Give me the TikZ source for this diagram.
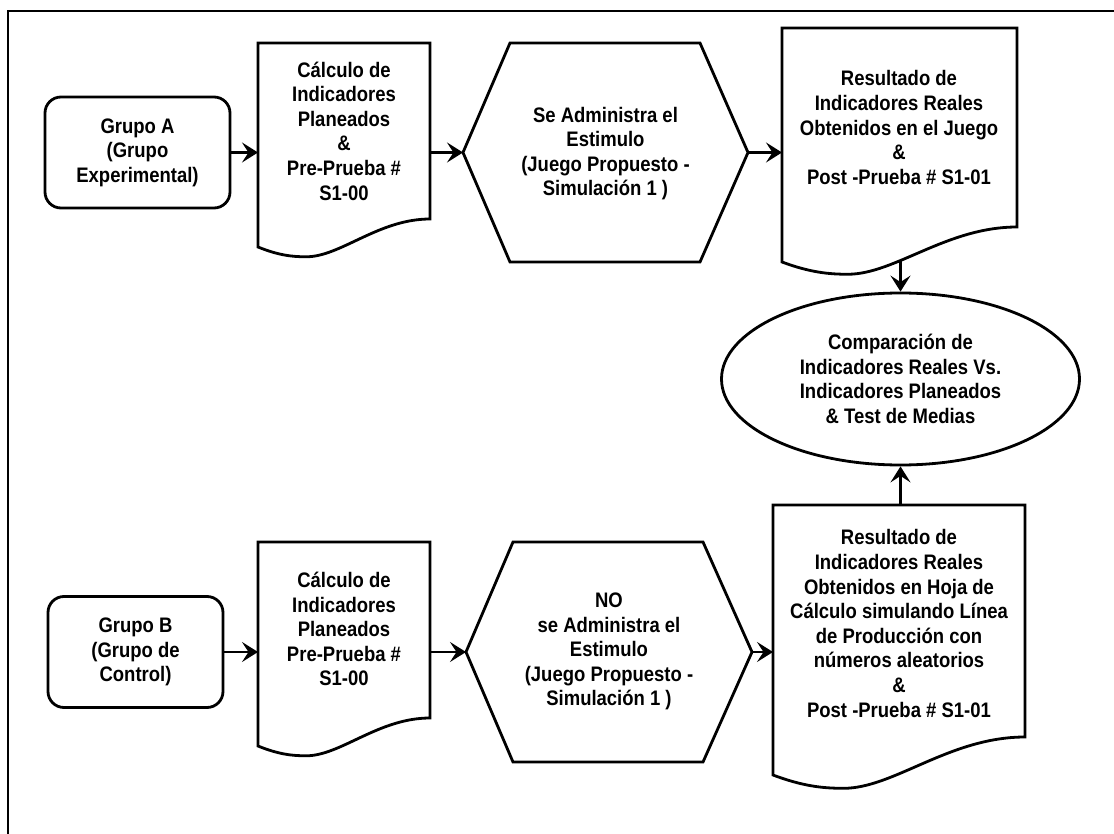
\documentclass[tikz,border=0pt]{standalone}
\usepackage{fontspec}
\setmainfont{Liberation Sans}[FakeStretch=0.88]
\usetikzlibrary{arrows.meta,shapes.geometric}

\tikzset{
  x=1pt, y=-1pt,
  outline/.style={draw=black, line width=2.8pt, line join=miter},
  txt/.style={font=\fontsize{21}{24.6}\selectfont\bfseries, align=center, inner sep=0pt},
  arr/.style={draw=black, line width=2.8pt, -{Stealth[length=16pt,width=20pt,inset=6.5pt]}},
}

% Document symbol: left L, right R, top T, bottom-left BL, bottom-right BR
\newcommand\docshape[5]{%
  \pgfmathsetmacro\dW{#2-#1}%
  \pgfmathsetmacro\dD{#4-#5}%
  \pgfmathsetmacro\dipx{#1+0.28*\dW}%
  \pgfmathsetmacro\dipy{#4+0.35*\dD}%
  \draw[outline] (#1,#3) -- (#2,#3) -- (#2,#5)
    .. controls (#1+0.7*\dW,#5) and (#1+0.48*\dW,\dipy) .. (\dipx,\dipy)
    .. controls (#1+0.2*\dW,\dipy) and (#1+0.12*\dW,#4+0.3*\dD) .. (#1,#4) -- cycle;
}
% Hexagon: left point L, top-left l, top-right r, right point R, top T, bottom B
\newcommand\hexshape[6]{%
  \pgfmathsetmacro\hM{(#5+#6)/2}%
  \draw[outline] (#1,\hM) -- (#2,#5) -- (#3,#5) -- (#4,\hM) -- (#3,#6) -- (#2,#6) -- cycle;
}

\begin{document}
\begin{tikzpicture}
\useasboundingbox (0,0) rectangle (1114,834);
\fill[white] (0,0) rectangle (1114,834);

% page frame
\draw[line width=2.2pt] (1114,11) -- (8,11) -- (8,834);

% ---------- Grupo A ----------
\node[outline, rounded corners=16pt, minimum width=185pt, minimum height=111pt, txt] (ga) at (137.5,152.5)
  {Grupo A\\(Grupo\\Experimental)};

\docshape{258}{430}{43}{247}{219}
\coordinate (d1-w) at (258,152.5);
\coordinate (d1-e) at (430,152.5);
\node[txt] (d1) at (344,131) {Cálculo de\\Indicadores\\Planeados\\\&\\Pre-Prueba \#\\S1-00};

\hexshape{463}{510}{700}{748}{43}{262}
\coordinate (h1-w) at (463,152.5);
\coordinate (h1-e) at (748,152.5);
\node[txt] (h1) at (605.5,153.5) {Se Administra el\\Estimulo\\(Juego Propuesto -\\Simulación 1 )};

\docshape{782}{1017}{28}{262}{227}
\coordinate (d3-w) at (782,152.5);
\coordinate (d3-s) at (900.5,260);
\node[txt] (d3) at (899,127.5) {Resultado de\\Indicadores Reales\\Obtenidos en el Juego\\\&\\Post -Prueba \# S1-01};

% ---------- comparison ----------
\node[outline, ellipse, minimum width=358pt, minimum height=172pt, inner sep=0pt, txt] (cmp) at (900.5,379)
  {Comparación de\\Indicadores Reales Vs.\\Indicadores Planeados\\\& Test de Medias};

% ---------- Grupo B ----------
\node[outline, rounded corners=16pt, minimum width=175pt, minimum height=111pt, txt] (gb) at (135.5,652)
  {Grupo B\\(Grupo de\\Control)};

\docshape{258}{430}{542}{746}{718}
\coordinate (e1-w) at (258,652);
\coordinate (e1-e) at (430,652);
\node[txt] (e1) at (344,629) {Cálculo de\\Indicadores\\Planeados\\Pre-Prueba \#\\S1-00};

\hexshape{466}{513}{703}{752}{542}{762}
\coordinate (h2-w) at (466,652);
\coordinate (h2-e) at (752,652);
\node[txt] (h2) at (609,651.5) {NO\\se Administra el\\Estimulo\\(Juego Propuesto -\\Simulación 1 )};

\docshape{773}{1025}{505}{775}{737}
\coordinate (e3-w) at (773,652);
\coordinate (e3-n) at (900.5,505);
\node[txt] (e3) at (899,623.5) {Resultado de\\Indicadores Reales\\Obtenidos en Hoja de\\Cálculo simulando Línea\\de Producción con\\números aleatorios\\\&\\Post -Prueba \# S1-01};

% ---------- connectors ----------
\draw[arr] (ga.east) -- (d1-w);
\draw[arr] (d1-e) -- (h1-w);
\draw[arr] (h1-e) -- (d3-w);
\draw[arr] (d3-s) -- (cmp.north);
\draw[arr] (gb.east) -- (e1-w);
\draw[arr] (e1-e) -- (h2-w);
\draw[arr] (h2-e) -- (e3-w);
\draw[arr] (e3-n) -- (cmp.south);
\end{tikzpicture}
\end{document}
